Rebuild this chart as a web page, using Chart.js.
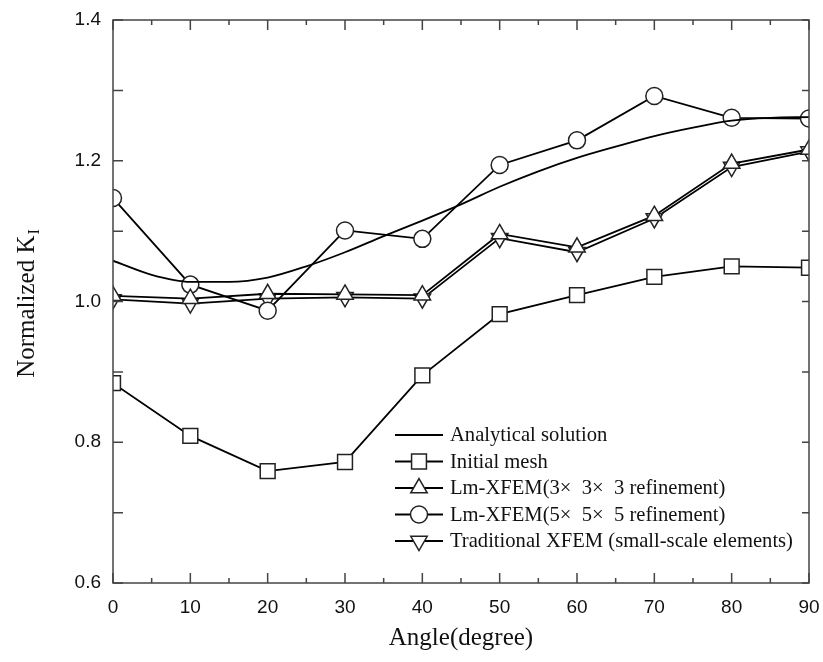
<!DOCTYPE html>
<html>
<head>
<meta charset="utf-8">
<script src="https://cdn.jsdelivr.net/npm/chart.js@4/dist/chart.umd.min.js"></script>
<style>
  html, body { margin: 0; padding: 0; background: #fff; }
  #wrap { width: 823px; height: 662px; }
</style>
</head>
<body>
<div id="wrap"><canvas id="kChart" width="823" height="662"></canvas></div>
<script>
// values
let angles = [0, 10, 20, 30, 40, 50, 60, 70, 80, 90];
let analyticAngles = [0, 5, 10, 15, 20, 25, 30, 35, 40, 45, 50, 55, 60, 65, 70, 75, 80, 85, 90];
let analytical = [1.058, 1.038, 1.028, 1.028, 1.034, 1.050, 1.070, 1.093, 1.115, 1.138, 1.163, 1.185, 1.204, 1.220, 1.235, 1.247, 1.257, 1.261, 1.262];
let initialMesh = [0.884, 0.809, 0.759, 0.772, 0.895, 0.982, 1.009, 1.035, 1.050, 1.048];
let lm3 = [1.008, 1.004, 1.011, 1.010, 1.009, 1.096, 1.077, 1.122, 1.196, 1.216];
let lm5 = [1.147, 1.024, 0.987, 1.101, 1.089, 1.194, 1.229, 1.292, 1.261, 1.260];
let tradXfem = [1.003, 0.997, 1.004, 1.006, 1.004, 1.090, 1.070, 1.118, 1.191, 1.213];

let xTicks = [0, 10, 20, 30, 40, 50, 60, 70, 80, 90];
let yTicks = [0.6, 0.8, 1.0, 1.2, 1.4];

let labels = [
  "Analytical solution",
  "Initial mesh",
  "Lm-XFEM(3\u00d7  3\u00d7  3 refinement)",
  "Lm-XFEM(5\u00d7  5\u00d7  5 refinement)",
  "Traditional XFEM (small-scale elements)"
];

function pts(xs, ys) {
  return xs.map((x, i) => ({ x: x, y: ys[i] }));
}

// **Build a marker series**
function markerSet(label, data, style, radius, rotation) {
  return {
    label: label,
    data: pts(angles, data),
    borderColor: "#000",
    borderWidth: 1.8,
    pointStyle: style,
    pointRadius: radius,
    pointRotation: rotation || 0,
    pointBackgroundColor: "#fff",
    pointBorderColor: "#222",
    pointBorderWidth: 1.5,
    tension: 0,
    clip: 0
  };
}

// **Frame, inward ticks, y title and legend**
const decorPlugin = {
  id: "decor",
  afterDraw(chart) {
    let ctx = chart.ctx;
    let a = chart.chartArea;
    let xs = chart.scales.x, ys = chart.scales.y;
    ctx.save();
    ctx.strokeStyle = "#444";
    ctx.lineWidth = 1.5;
    ctx.strokeRect(a.left, a.top, a.right - a.left, a.bottom - a.top);

    ctx.beginPath();
    for (let v = 0; v <= 90; v += 5) {
      let px = xs.getPixelForValue(v);
      let len = v % 10 === 0 ? 10 : 5;
      ctx.moveTo(px, a.bottom); ctx.lineTo(px, a.bottom - len);
      ctx.moveTo(px, a.top); ctx.lineTo(px, a.top + len);
    }
    for (let k = 6; k <= 14; k++) {
      let py = ys.getPixelForValue(k / 10);
      ctx.moveTo(a.left, py); ctx.lineTo(a.left + 10, py);
      ctx.moveTo(a.right, py); ctx.lineTo(a.right - 7, py);
    }
    ctx.stroke();

    // y title with subscript
    ctx.fillStyle = "#111";
    ctx.translate(34, 304);
    ctx.rotate(-Math.PI / 2);
    ctx.font = "25px 'Liberation Serif'";
    let main = "Normalized K";
    let w1 = ctx.measureText(main).width;
    ctx.font = "16px 'Liberation Serif'";
    let w2 = ctx.measureText("I").width;
    let x0 = -(w1 + w2) / 2;
    ctx.font = "25px 'Liberation Serif'";
    ctx.textBaseline = "alphabetic";
    ctx.fillText(main, x0, 0);
    ctx.font = "16px 'Liberation Serif'";
    ctx.fillText("I", x0 + w1 + 1, 5);
    ctx.setTransform(1, 0, 0, 1, 0, 0);

    // legend
    let rowY = [435, 461.5, 488, 514.5, 541];
    chart.data.datasets.forEach((ds, i) => {
      let y = rowY[i];
      ctx.strokeStyle = "#000";
      ctx.lineWidth = 1.8;
      ctx.beginPath();
      ctx.moveTo(395, y); ctx.lineTo(443, y);
      ctx.stroke();
      if (ds.pointRadius > 0) {
        ctx.fillStyle = "#fff";
        ctx.strokeStyle = "#222";
        ctx.lineWidth = 1.5;
        Chart.helpers.drawPoint(ctx, {
          pointStyle: ds.pointStyle,
          rotation: ds.pointRotation,
          radius: ds.pointRadius,
          borderWidth: 1.5
        }, 419, y);
      }
      ctx.fillStyle = "#111";
      ctx.font = "20.6px 'Liberation Serif'";
      ctx.textBaseline = "middle";
      ctx.textAlign = "left";
      ctx.fillText(ds.label, 450, y + 1);
    });
    ctx.restore();
  }
};

new Chart(document.getElementById("kChart").getContext("2d"), {
  type: "line",
  data: {
    datasets: [
      {
        label: labels[0],
        data: pts(analyticAngles, analytical),
        borderColor: "#000",
        borderWidth: 1.8,
        pointRadius: 0,
        cubicInterpolationMode: "monotone",
        clip: 0
      },
      markerSet(labels[1], initialMesh, "rect", 10.5),
      markerSet(labels[2], lm3, "triangle", 9.5),
      markerSet(labels[3], lm5, "circle", 8.5),
      markerSet(labels[4], tradXfem, "triangle", 9.5, 180)
    ]
  },
  options: {
    responsive: false,
    animation: false,
    layout: { padding: { left: 0, right: 14, top: 20, bottom: 0 } },
    plugins: { legend: { display: false }, tooltip: { enabled: false } },
    scales: {
      x: {
        type: "linear",
        min: 0,
        max: 90,
        afterBuildTicks: s => { s.ticks = xTicks.map(v => ({ value: v })); },
        afterFit: s => { s.height = 79; s.paddingLeft = 0; s.paddingRight = 0; },
        grid: { display: false, drawTicks: false },
        border: { display: false },
        ticks: {
          padding: 13,
          color: "#111",
          font: { family: "'Liberation Sans'", size: 19 }
        },
        title: {
          display: true,
          text: "Angle(degree)",
          color: "#111",
          font: { family: "'Liberation Serif'", size: 25 },
          padding: { top: 10, bottom: 9 }
        }
      },
      y: {
        type: "linear",
        min: 0.6,
        max: 1.4,
        afterBuildTicks: s => { s.ticks = yTicks.map(v => ({ value: v })); },
        afterFit: s => { s.width = 113; s.paddingTop = 0; s.paddingBottom = 0; },
        grid: { display: false, drawTicks: false },
        border: { display: false },
        ticks: {
          padding: 12,
          color: "#111",
          font: { family: "'Liberation Sans'", size: 19 },
          callback: v => v.toFixed(1)
        }
      }
    }
  },
  plugins: [decorPlugin]
});
</script>
</body>
</html>
